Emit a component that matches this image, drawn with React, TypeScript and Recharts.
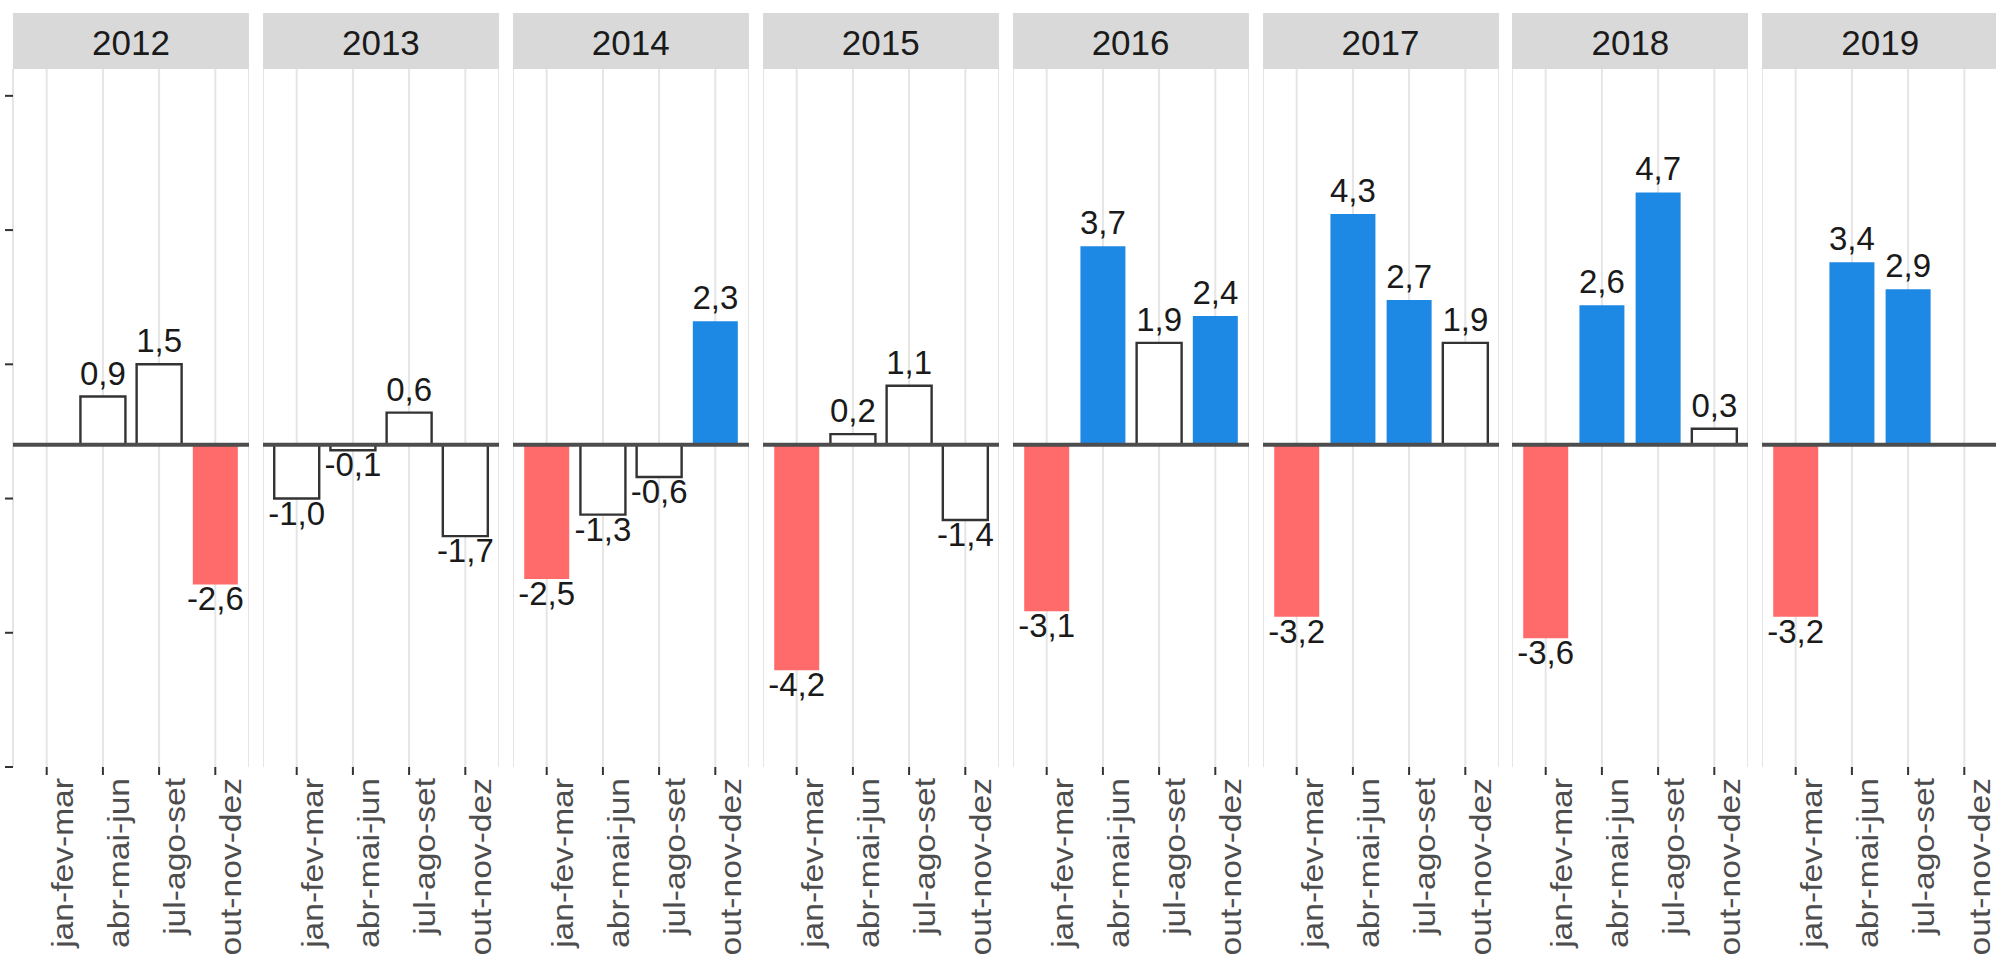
import React from 'react';
import { BarChart, Bar, XAxis, YAxis, CartesianGrid, ReferenceLine, Cell, LabelList } from 'recharts';

const years = ['2012', '2013', '2014', '2015', '2016', '2017', '2018', '2019'];
const quarters = ['jan-fev-mar', 'abr-mai-jun', 'jul-ago-set', 'out-nov-dez'];

// variação por trimestre, um array por ano (null = sem dado)
const v2012 = [null, 0.9, 1.5, -2.6];
const v2013 = [-1.0, -0.1, 0.6, -1.7];
const v2014 = [-2.5, -1.3, -0.6, 2.3];
const v2015 = [-4.2, 0.2, 1.1, -1.4];
const v2016 = [-3.1, 3.7, 1.9, 2.4];
const v2017 = [-3.2, 4.3, 2.7, 1.9];
const v2018 = [-3.6, 2.6, 4.7, 0.3];
const v2019 = [-3.2, 3.4, 2.9, null];
const valuesByYear = [v2012, v2013, v2014, v2015, v2016, v2017, v2018, v2019];

const yTicks = [-6, -3.5, -1, 1.5, 4, 6.5];
const yDomain = [-6, 7];

const FONT = '"Liberation Sans", Arial, Helvetica, sans-serif';
const BLUE = '#1E88E5';
const RED = '#FF6A6A';

const PANEL_X0 = 13;
const PITCH = 249.9;
const PANEL_W = 236;
const STRIP_TOP = 13;
const STRIP_H = 56;
const PLOT_TOP = 69;
const H = 962;
const XAXIS_H = 195;

const fmt = (v: number) => v.toFixed(1).replace('.', ',');

const fillFor = (v: number | null) => {
  if (v == null) return 'none';
  if (v > 2) return BLUE;
  if (v < -2) return RED;
  return '#FFFFFF';
};

const QuarterTick = (props: any) => {
  const { x, y, payload } = props;
  return (
    <text
      transform={`translate(${x + 26},${y + 1}) rotate(-90) scale(1.12,1)`}
      textAnchor="end"
      fontSize={30}
      fontFamily={FONT}
      fill="#4D4D4D"
    >
      {payload.value}
    </text>
  );
};

const NoTick = () => <g />;

const BarLabel = (props: any) => {
  const vb = props.viewBox || props;
  const { value } = props;
  if (value == null || vb.x == null) return null;
  const top = Math.min(vb.y, vb.y + vb.height);
  const bottom = Math.max(vb.y, vb.y + vb.height);
  const cx = vb.x + vb.width / 2;
  const ty = value >= 0 ? top - 12 : bottom + 26;
  return (
    <text x={cx} y={ty} textAnchor="middle" fontSize={33} fontFamily={FONT} fill="#1A1A1A">
      {fmt(value)}
    </text>
  );
};

function Panel({ year, values, index }: { year: string; values: (number | null)[]; index: number }) {
  const left = PANEL_X0 + index * PITCH;
  const axisW = index === 0 ? 13 : 0;
  const data = quarters.map((q, i) => ({ q, v: values[i] }));

  return (
    <>
      <div
        style={{
          position: 'absolute',
          left,
          top: STRIP_TOP,
          width: PANEL_W,
          height: STRIP_H,
          boxSizing: 'border-box',
          paddingTop: 4,
          background: '#D9D9D9',
          display: 'flex',
          alignItems: 'center',
          justifyContent: 'center',
          fontSize: 35,
          color: '#1A1A1A',
          fontFamily: FONT,
        }}
      >
        {year}
      </div>
      <div style={{ position: 'absolute', left: left - axisW, top: 0 }}>
        <BarChart
          width={PANEL_W + axisW}
          height={H}
          data={data}
          margin={{ top: PLOT_TOP, right: 0, bottom: 0, left: 0 }}
          barCategoryGap="10%"
        >
          <CartesianGrid horizontal={false} stroke="#E5E5E5" strokeWidth={2} />
          <XAxis
            dataKey="q"
            interval={0}
            height={XAXIS_H}
            padding={{ left: 5.6, right: 5.6 }}
            axisLine={false}
            tickSize={8}
            tickLine={{ stroke: '#333333', strokeWidth: 2 }}
            tick={<QuarterTick />}
          />
          {index === 0 ? (
            <YAxis
              width={13}
              domain={yDomain}
              ticks={yTicks}
              allowDataOverflow
              axisLine={false}
              tickSize={8}
              tickLine={{ stroke: '#333333', strokeWidth: 2 }}
              tick={NoTick}
            />
          ) : (
            <YAxis hide domain={yDomain} allowDataOverflow />
          )}
          <Bar dataKey="v" isAnimationActive={false}>
            {data.map((d, i) => (
              <Cell
                key={i}
                fill={fillFor(d.v)}
                stroke={d.v != null && Math.abs(d.v) <= 2 ? '#333333' : 'none'}
                strokeWidth={2.4}
              />
            ))}
            <LabelList dataKey="v" content={BarLabel} />
          </Bar>
          <ReferenceLine y={0} stroke="#4D4D4D" strokeWidth={4} />
        </BarChart>
      </div>
    </>
  );
}

export default function App() {
  return (
    <div
      style={{
        position: 'absolute',
        left: 0,
        top: 0,
        width: 1996,
        height: H,
        overflow: 'hidden',
        background: '#FFFFFF',
      }}
    >
      {years.map((yr, i) => (
        <Panel key={yr} year={yr} values={valuesByYear[i]} index={i} />
      ))}
    </div>
  );
}
